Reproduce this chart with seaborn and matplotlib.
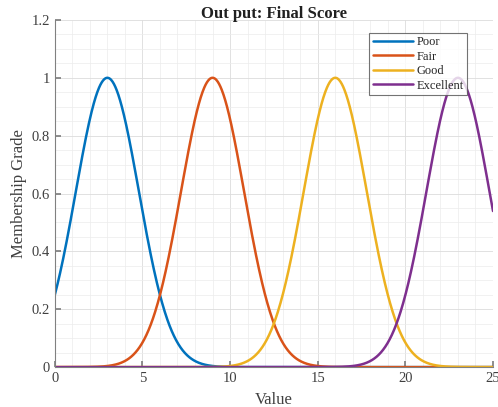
import numpy as np
import pandas as pd
import matplotlib
matplotlib.use("Agg")
import matplotlib.pyplot as plt
import seaborn as sns
from matplotlib.ticker import MultipleLocator

# Membership function parameters (Gaussian MFs)
labels = ["Poor", "Fair", "Good", "Excellent"]
centers = [3, 9, 16, 23]
sigmas = [1.8, 1.8, 1.8, 1.8]
colors = ["#0072BD", "#D95319", "#EDB120", "#7E2F8E"]
x_ticks = [0, 5, 10, 15, 20, 25]
y_ticks = [0, 0.2, 0.4, 0.6, 0.8, 1.0, 1.2]
y_tick_labels = ["0", "0.2", "0.4", "0.6", "0.8", "1", "1.2"]

x = np.linspace(0, 25, 1001)
frames = []
for lab, c, s in zip(labels, centers, sigmas):
    frames.append(pd.DataFrame({"Value": x,
                                "Grade": np.exp(-((x - c) ** 2) / (2 * s ** 2)),
                                "MF": lab}))
df = pd.concat(frames, ignore_index=True)

sns.set_theme(style="white")
plt.rcParams["font.family"] = ["Liberation Serif", "DejaVu Serif"]

fig = plt.figure(figsize=(4.98, 4.07), dpi=100)
ax = fig.add_axes([0.110, 0.098, 0.880, 0.853])

sns.lineplot(data=df, x="Value", y="Grade", hue="MF", hue_order=labels,
             palette=colors, linewidth=1.8, ax=ax, sort=False)

ax.set_xlim(0, 25)
ax.set_ylim(0, 1.2)
ax.set_xticks(x_ticks)
ax.set_xticklabels([str(t) for t in x_ticks])
ax.set_yticks(y_ticks)
ax.set_yticklabels(y_tick_labels)
ax.xaxis.set_minor_locator(MultipleLocator(1))
ax.yaxis.set_minor_locator(MultipleLocator(0.05))
ax.grid(which="major", color="#dcdcdc", linewidth=0.6)
ax.grid(which="minor", color="#ececec", linewidth=0.5)
ax.set_axisbelow(True)

for side in ["top", "right"]:
    ax.spines[side].set_visible(False)
for side in ["left", "bottom"]:
    ax.spines[side].set_color("#808080")
    ax.spines[side].set_linewidth(0.8)

ax.tick_params(axis="both", which="major", direction="in", length=4,
               color="#808080", labelsize=10.5, labelcolor="#404040",
               left=True, bottom=True)
ax.tick_params(axis="both", which="minor", length=0)

ax.set_xlabel("Value", fontsize=12, color="#404040", labelpad=5)
ax.set_ylabel("Membership Grade", fontsize=12, color="#404040", labelpad=3)
ax.set_title("Out put: Final Score", fontsize=12, fontweight="bold",
             color="#202020", pad=1.5)

leg = ax.legend(loc="upper right", bbox_to_anchor=(0.94, 0.962),
                fontsize=9, handlelength=3.2, handletextpad=0.3,
                borderpad=0.25, labelspacing=0.2, frameon=True,
                fancybox=False, borderaxespad=0)
leg.get_frame().set_edgecolor("#505050")
leg.get_frame().set_linewidth(0.8)
leg.get_frame().set_facecolor("white")
for line in leg.get_lines():
    line.set_linewidth(1.8)

fig.savefig("out.png", dpi=100)
